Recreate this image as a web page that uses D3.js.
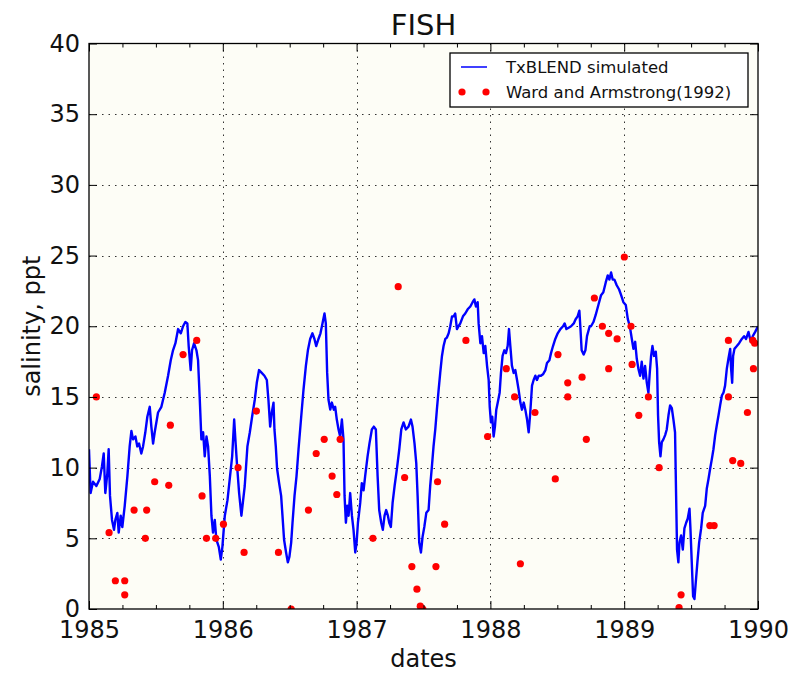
<!DOCTYPE html>
<html><head><meta charset="utf-8">
<script src="https://cdn.jsdelivr.net/npm/d3@7"></script>
<style>body{margin:0;background:#fff}svg{display:block}text{font-family:"DejaVu Sans",sans-serif}</style>
</head><body><svg id="c" width="795" height="673"></svg>
<script>
const title = "FISH";
const xLabel = "dates";
const yLabel = "salinity, ppt";
const seriesNames = ["TxBLEND simulated", "Ward and Armstrong(1992)"];
const xTickYears = [1985, 1986, 1987, 1988, 1989, 1990];
const xMinorTicks = [1985.25,1985.5,1985.75,1986.25,1986.5,1986.75,1987.25,1987.5,1987.75,1988.25,1988.5,1988.75,1989.25,1989.5,1989.75];
const yTicks = [0, 5, 10, 15, 20, 25, 30, 35, 40];

const simDates = [
1985.000,1985.012,1985.030,1985.055,1985.080,1985.097,1985.110,1985.122,1985.137,1985.147,
1985.157,1985.172,1985.187,1985.197,1985.212,1985.222,1985.237,1985.249,1985.267,1985.287,
1985.304,1985.317,1985.329,1985.347,1985.361,1985.374,1985.391,1985.404,1985.421,1985.436,
1985.454,1985.466,1985.479,1985.491,1985.516,1985.541,1985.566,1985.591,1985.611,1985.628,
1985.646,1985.666,1985.686,1985.703,1985.720,1985.735,1985.745,1985.760,1985.770,1985.785,
1985.803,1985.815,1985.828,1985.840,1985.853,1985.865,1985.878,1985.890,1985.903,1985.915,
1985.927,1985.940,1985.952,1985.970,1985.985,1985.997,1986.015,1986.035,1986.052,1986.070,
1986.085,1986.094,1986.107,1986.122,1986.139,1986.152,1986.164,1986.184,1986.202,1986.219,
1986.239,1986.254,1986.271,1986.291,1986.311,1986.329,1986.341,1986.354,1986.366,1986.379,
1986.386,1986.396,1986.406,1986.421,1986.436,1986.446,1986.458,1986.473,1986.486,1986.498,
1986.511,1986.521,1986.536,1986.551,1986.566,1986.586,1986.603,1986.621,1986.636,1986.653,
1986.670,1986.685,1986.698,1986.715,1986.730,1986.745,1986.760,1986.770,1986.780,1986.790,
1986.803,1986.815,1986.830,1986.840,1986.852,1986.865,1986.877,1986.890,1986.902,1986.910,
1986.920,1986.930,1986.940,1986.952,1986.965,1986.977,1986.990,1987.000,1987.010,1987.027,
1987.039,1987.052,1987.064,1987.082,1987.096,1987.114,1987.129,1987.144,1987.157,1987.169,
1987.184,1987.196,1987.209,1987.221,1987.234,1987.244,1987.256,1987.269,1987.284,1987.301,
1987.319,1987.334,1987.351,1987.368,1987.388,1987.406,1987.418,1987.433,1987.446,1987.456,
1987.468,1987.481,1987.493,1987.506,1987.521,1987.538,1987.550,1987.563,1987.575,1987.588,
1987.600,1987.613,1987.625,1987.638,1987.650,1987.663,1987.675,1987.688,1987.700,1987.713,
1987.725,1987.737,1987.750,1987.762,1987.775,1987.795,1987.812,1987.830,1987.850,1987.867,
1987.880,1987.892,1987.905,1987.912,1987.925,1987.937,1987.950,1987.962,1987.975,1987.987,
1987.995,1988.004,1988.014,1988.024,1988.034,1988.044,1988.059,1988.069,1988.079,1988.091,
1988.104,1988.116,1988.129,1988.139,1988.149,1988.161,1988.174,1988.186,1988.199,1988.211,
1988.224,1988.236,1988.249,1988.261,1988.274,1988.286,1988.298,1988.311,1988.323,1988.336,
1988.348,1988.361,1988.378,1988.393,1988.411,1988.423,1988.441,1988.453,1988.468,1988.485,
1988.503,1988.523,1988.543,1988.555,1988.568,1988.585,1988.603,1988.623,1988.637,1988.652,
1988.665,1988.672,1988.682,1988.697,1988.710,1988.722,1988.742,1988.752,1988.770,1988.787,
1988.807,1988.827,1988.844,1988.862,1988.877,1988.889,1988.902,1988.914,1988.927,1988.944,
1988.962,1988.977,1988.994,1989.012,1989.027,1989.042,1989.057,1989.069,1989.082,1989.094,
1989.106,1989.119,1989.131,1989.144,1989.156,1989.169,1989.181,1989.191,1989.201,1989.211,
1989.223,1989.236,1989.246,1989.253,1989.261,1989.271,1989.281,1989.293,1989.306,1989.318,
1989.331,1989.343,1989.356,1989.368,1989.380,1989.388,1989.395,1989.405,1989.413,1989.425,
1989.438,1989.450,1989.463,1989.475,1989.488,1989.495,1989.505,1989.515,1989.525,1989.535,
1989.547,1989.560,1989.575,1989.587,1989.605,1989.617,1989.630,1989.642,1989.655,1989.667,
1989.680,1989.692,1989.705,1989.717,1989.730,1989.742,1989.754,1989.767,1989.779,1989.792,
1989.799,1989.807,1989.814,1989.824,1989.842,1989.859,1989.879,1989.896,1989.911,1989.929,
1989.946,1989.961,1989.979,1990.000];
const simSalinity = [
11.3,8.2,9.0,8.7,9.2,10.1,11.0,8.2,9.6,11.3,
8.0,6.3,5.6,6.3,6.8,5.4,6.6,5.8,7.3,9.4,
11.5,12.6,12.0,12.2,11.5,11.7,11.0,11.5,12.5,13.6,
14.3,12.9,11.7,12.5,13.9,14.3,15.3,16.5,17.6,18.3,
18.8,19.8,19.5,20.0,20.3,20.2,18.6,16.9,18.3,18.8,
18.3,17.6,14.8,12.0,12.5,10.8,12.2,11.5,9.4,6.6,
5.4,6.3,4.9,4.4,3.5,4.4,6.6,7.7,9.2,10.8,
13.4,12.0,10.1,8.2,6.6,7.7,8.7,11.5,12.5,13.6,
14.8,16.0,16.9,16.7,16.5,16.2,14.8,12.9,13.9,14.6,
12.7,11.5,9.9,8.9,8.0,6.6,4.9,4.0,3.3,3.7,
4.7,6.1,8.0,9.4,11.3,13.6,15.5,17.2,18.3,19.1,
19.5,19.1,18.6,19.1,19.5,20.2,20.9,20.2,16.7,14.8,
14.1,14.6,14.1,14.3,13.4,12.7,12.2,13.4,12.0,8.0,
6.1,7.3,6.6,8.2,6.6,5.6,4.0,4.7,6.1,7.5,
8.9,8.4,9.4,10.8,11.7,12.7,12.9,12.7,9.4,7.0,
6.1,5.6,6.6,7.0,6.6,6.1,5.8,7.5,8.7,9.9,
11.3,12.7,13.2,12.7,12.9,13.4,12.9,11.7,10.3,8.0,
4.7,4.0,5.1,5.8,6.8,7.0,8.7,10.1,11.5,12.7,
14.1,15.5,16.7,17.9,18.6,19.1,19.2,19.5,20.0,20.7,
20.7,20.9,19.8,20.0,20.2,20.7,20.9,21.2,21.4,21.7,
21.9,21.4,21.7,20.2,18.8,19.3,18.1,18.6,17.2,16.2,
14.3,13.2,13.6,12.2,12.9,14.1,14.8,15.3,16.7,17.9,
18.3,18.1,18.6,19.8,18.6,17.2,16.7,16.9,16.2,15.5,
14.6,14.1,14.6,14.1,13.4,12.5,13.9,15.8,16.2,16.5,
16.2,16.5,16.5,16.6,16.9,17.4,17.6,18.1,18.6,19.1,
19.5,19.8,20.0,20.2,19.8,19.9,20.0,20.2,20.5,20.7,
21.1,20.0,18.3,18.0,18.3,19.3,20.0,20.0,20.3,20.8,
21.5,22.2,22.4,23.1,23.6,23.3,23.8,23.3,23.3,22.9,
22.6,22.2,21.7,21.5,20.5,20.0,19.1,18.4,18.9,17.7,
17.0,16.5,17.5,16.3,17.2,16.0,15.3,16.7,17.9,18.6,
17.9,18.2,17.0,13.7,11.8,10.8,11.8,12.0,12.3,12.7,
13.7,14.4,14.2,13.4,12.5,8.0,4.2,3.3,4.7,5.2,
4.2,5.7,6.1,6.4,7.1,5.7,3.3,0.9,0.7,1.9,
3.3,4.7,5.7,6.8,7.3,8.5,9.2,9.9,10.6,11.3,
12.3,13.0,13.7,14.4,15.1,15.3,15.8,17.0,17.7,18.4,
17.0,16.0,17.9,18.4,18.6,18.8,19.1,19.3,19.1,19.6,
18.9,19.3,19.6,20.0];

const obsDates = [
1985.055,1985.150,1985.197,1985.267,1985.267,1985.337,1985.421,1985.431,1985.491,1985.596,
1985.608,1985.703,1985.805,1985.845,1985.878,1985.947,1986.005,1986.114,1986.159,1986.251,
1986.416,1986.511,1986.640,1986.698,1986.758,1986.817,1986.852,1986.877,1987.122,1987.311,
1987.359,1987.413,1987.451,1987.476,1987.495,1987.593,1987.605,1987.658,1987.817,1987.979,
1988.119,1988.181,1988.224,1988.333,1988.485,1988.505,1988.578,1988.578,1988.685,1988.717,
1988.777,1988.837,1988.884,1988.884,1988.947,1989.001,1989.051,1989.059,1989.109,1989.181,
1989.261,1989.410,1989.425,1989.640,1989.672,1989.779,1989.779,1989.811,1989.871,1989.921,
1989.961,1989.966,1989.975];
const obsSalinity = [
15.0,5.4,2.0,2.0,1.0,7.0,5.0,7.0,9.0,8.75,
13.0,18.0,19.0,8.0,5.0,5.0,6.0,10.0,4.0,14.0,
4.0,0.0,7.0,11.0,12.0,9.4,8.1,12.0,5.0,22.8,
9.3,3.0,1.4,0.2,0.0,3.0,9.0,6.0,19.0,12.2,
17.0,15.0,3.2,13.9,9.2,18.0,16.0,15.0,16.4,12.0,
22.0,20.0,19.5,17.0,19.1,24.9,20.0,17.3,13.7,15.0,
10.0,0.1,1.0,5.9,5.9,19.0,15.0,10.5,10.3,13.9,
19.0,17.0,18.8];

const svg = d3.select("#c");
const L = 89, R = 758, T = 43.5, B = 609;
const x = d3.scaleLinear().domain([1985, 1990]).range([L, R]);
const y = d3.scaleLinear().domain([0, 40]).range([B, T]);

svg.append("rect").attr("x", L).attr("y", T).attr("width", R - L).attr("height", B - T).attr("fill", "#fdfdf6");

svg.append("defs").append("clipPath").attr("id", "clip")
  .append("rect").attr("x", L).attr("y", T).attr("width", R - L).attr("height", B - T);

// grid
const grid = svg.append("g").attr("stroke", "#333").attr("stroke-width", 1).attr("stroke-dasharray", "1.5,5");
grid.selectAll("line.gx").data(xTickYears.slice(1, -1)).enter().append("line")
  .attr("x1", d => Math.round(x(d)) + 0.5).attr("x2", d => Math.round(x(d)) + 0.5).attr("y1", T).attr("y2", B);
grid.selectAll("line.gy").data(yTicks.slice(1, -1)).enter().append("line")
  .attr("y1", d => Math.round(y(d)) + 0.5).attr("y2", d => Math.round(y(d)) + 0.5).attr("x1", L).attr("x2", R);

const plot = svg.append("g").attr("clip-path", "url(#clip)");
const simData = simDates.map((d, i) => [d, simSalinity[i]]);
plot.append("path").datum(simData)
  .attr("fill", "none").attr("stroke", "#0000ff").attr("stroke-width", 2.4).attr("stroke-linejoin", "round")
  .attr("d", d3.line().x(d => x(d[0])).y(d => y(d[1])));

plot.selectAll("circle.obs").data(obsDates.map((d, i) => [d, obsSalinity[i]])).enter().append("circle")
  .attr("cx", d => x(d[0])).attr("cy", d => y(d[1])).attr("r", 3.6).attr("fill", "#ff0000");

// axes
function styleAxis(g) {
  g.select(".domain").remove();
  g.selectAll("line").attr("stroke", "#000").attr("stroke-width", 1);
  g.selectAll("text").attr("font-size", 24).attr("fill", "#111").attr("font-family", "DejaVu Sans");
}
svg.append("g").attr("transform", `translate(0,${B})`)
  .call(d3.axisBottom(x).tickValues(xTickYears).tickSize(-8).tickPadding(12).tickFormat(d3.format("d"))).call(styleAxis);
svg.append("g").attr("transform", `translate(0,${B})`)
  .call(d3.axisBottom(x).tickValues(xMinorTicks).tickSize(-4).tickFormat("")).call(styleAxis);
svg.append("g").attr("transform", `translate(0,${T})`)
  .call(d3.axisTop(x).tickValues(xTickYears).tickSize(-8).tickFormat("")).call(styleAxis);
svg.append("g").attr("transform", `translate(0,${T})`)
  .call(d3.axisTop(x).tickValues(xMinorTicks).tickSize(-4).tickFormat("")).call(styleAxis);
svg.append("g").attr("transform", `translate(${L},0)`)
  .call(d3.axisLeft(y).tickValues(yTicks).tickSize(-8).tickPadding(9).tickFormat(d3.format("d"))).call(styleAxis);
svg.append("g").attr("transform", `translate(${R},0)`)
  .call(d3.axisRight(y).tickValues(yTicks).tickSize(-8).tickFormat("")).call(styleAxis);

svg.append("rect").attr("x", L).attr("y", T).attr("width", R - L).attr("height", B - T)
  .attr("fill", "none").attr("stroke", "#000").attr("stroke-width", 1.3);

// titles
svg.append("text").attr("x", (L + R) / 2).attr("y", 35).attr("text-anchor", "middle").attr("font-size", 29).attr("fill", "#111").text(title);
svg.append("text").attr("x", (L + R) / 2).attr("y", 667).attr("text-anchor", "middle").attr("font-size", 24).attr("fill", "#111").text(xLabel);
svg.append("text").attr("transform", `translate(40,${(T + B) / 2}) rotate(-90)`).attr("text-anchor", "middle").attr("font-size", 24).attr("fill", "#111").text(yLabel);

// legend
const lg = svg.append("g");
lg.append("rect").attr("x", 450).attr("y", 53).attr("width", 298).attr("height", 54).attr("fill", "#fff").attr("stroke", "#000").attr("stroke-width", 1.3);
lg.append("line").attr("x1", 461).attr("x2", 487).attr("y1", 67).attr("y2", 67).attr("stroke", "#0000ff").attr("stroke-width", 1.5);
lg.selectAll("circle").data([462, 486]).enter().append("circle").attr("cx", d => d).attr("cy", 92).attr("r", 3.6).attr("fill", "#ff0000");
lg.selectAll("text").data(seriesNames).enter().append("text")
  .attr("x", 506).attr("y", (d, i) => 67 + i * 25).attr("dy", "0.35em").attr("font-size", 16.5).attr("fill", "#111").text(d => d);
</script></body></html>
